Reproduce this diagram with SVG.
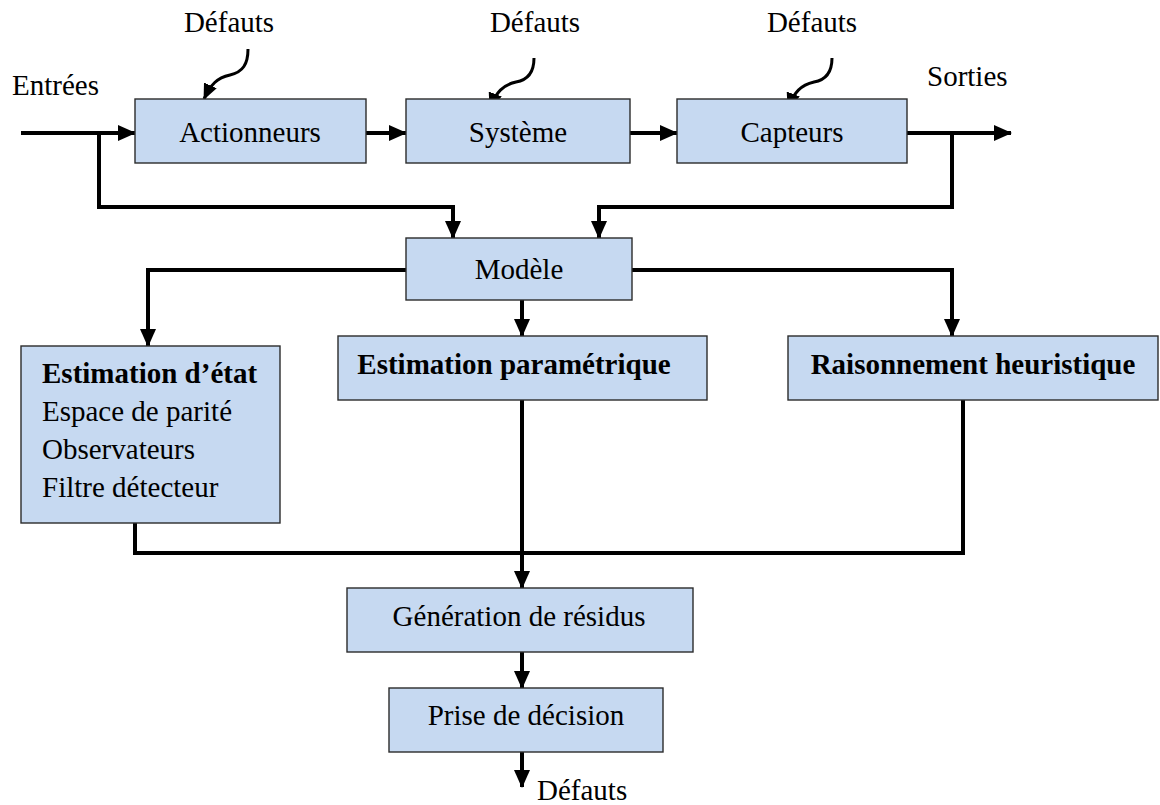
<svg xmlns="http://www.w3.org/2000/svg" width="1160" height="805" viewBox="0 0 1160 805">
  <style>
    .box { fill: #C6D9F1; stroke: #2b2b2b; stroke-width: 1.4; }
    .lbl { font-family: "Liberation Serif", "Times New Roman", serif; font-size: 29px; fill: #000; }
    .mid { text-anchor: middle; }
    .b { font-weight: bold; }
    .wire { fill: none; stroke: #000; stroke-width: 4; stroke-linejoin: miter; }
    .arr { marker-end: url(#head); }
    .wave { fill: none; stroke: #000; stroke-width: 3; marker-end: url(#small); }
  </style>
  <defs>
    <marker id="head" markerUnits="userSpaceOnUse" markerWidth="18" markerHeight="16" viewBox="0 0 18 16" refX="17" refY="8" orient="auto">
      <path d="M0,0 L18,8 L0,16 z" fill="#000"/>
    </marker>
    <marker id="small" markerUnits="userSpaceOnUse" markerWidth="16" markerHeight="14" viewBox="0 0 16 14" refX="15" refY="7" orient="auto">
      <path d="M0,0 L16,7 L0,14 z" fill="#000"/>
    </marker>
  </defs>

  <!-- free labels -->
  <text class="lbl" x="12" y="95">Entrées</text>
  <text class="lbl" x="927" y="86">Sorties</text>
  <text class="lbl mid" x="229" y="32">Défauts</text>
  <text class="lbl mid" x="535" y="32">Défauts</text>
  <text class="lbl mid" x="812" y="32">Défauts</text>
  <text class="lbl" x="537" y="800">Défauts</text>

  <!-- connectors -->
  <g id="connectors">
    <!-- fault disturbances -->
    <path class="wave" d="M248,49 C248,64 243,72 230,75 C217,78 211,84 204,99"/>
    <path class="wave" d="M534,58 C534,72 528,80 516,82 C503,85 496,92 490,108"/>
    <path class="wave" d="M832,58 C832,72 826,80 814,82 C801,85 794,92 788,108"/>

    <!-- forward chain -->
    <path class="wire arr" d="M21,133 L135,133"/>
    <path class="wire arr" d="M366,133 L406,133"/>
    <path class="wire arr" d="M630,133 L677,133"/>
    <path class="wire arr" d="M907,133 L1011,133"/>

    <!-- inputs and outputs to the model -->
    <path class="wire arr" d="M99,133 L99,207 L453,207 L453,238"/>
    <path class="wire arr" d="M952,133 L952,207 L599,207 L599,238"/>

    <!-- model to the three methods -->
    <path class="wire arr" d="M406,270 L148,270 L148,346"/>
    <path class="wire arr" d="M522,300 L522,336"/>
    <path class="wire arr" d="M632,270 L952,270 L952,336"/>

    <!-- methods to residual generation -->
    <path class="wire" d="M135,523 L135,553 L963,553 L963,400"/>
    <path class="wire arr" d="M522,400 L522,588"/>
    <path class="wire arr" d="M522,652 L522,688"/>
    <path class="wire arr" d="M522,752 L522,787"/>
  </g>

  <g id="actionneurs">
    <rect class="box" x="135" y="99" width="231" height="64"/>
    <text class="lbl mid" x="250" y="142">Actionneurs</text>
  </g>
  <g id="systeme">
    <rect class="box" x="406" y="99" width="224" height="64"/>
    <text class="lbl mid" x="518" y="142">Système</text>
  </g>
  <g id="capteurs">
    <rect class="box" x="677" y="99" width="230" height="64"/>
    <text class="lbl mid" x="792" y="142">Capteurs</text>
  </g>
  <g id="modele">
    <rect class="box" x="406" y="238" width="226" height="62"/>
    <text class="lbl mid" x="519" y="279">Modèle</text>
  </g>
  <g id="estimation-etat">
    <rect class="box" x="21" y="346" width="259" height="177"/>
    <text class="lbl b" x="42" y="383">Estimation d’état</text>
    <text class="lbl" x="42" y="421">Espace de parité</text>
    <text class="lbl" x="42" y="459">Observateurs</text>
    <text class="lbl" x="42" y="497">Filtre détecteur</text>
  </g>
  <g id="estimation-parametrique">
    <rect class="box" x="338" y="336" width="369" height="64"/>
    <text class="lbl mid b" x="514" y="374">Estimation paramétrique</text>
  </g>
  <g id="raisonnement">
    <rect class="box" x="788" y="336" width="370" height="64"/>
    <text class="lbl mid b" x="973" y="374">Raisonnement heuristique</text>
  </g>
  <g id="generation-residus">
    <rect class="box" x="347" y="588" width="346" height="64"/>
    <text class="lbl mid" x="519" y="626">Génération de résidus</text>
  </g>
  <g id="prise-decision">
    <rect class="box" x="389" y="688" width="274" height="64"/>
    <text class="lbl mid" x="526" y="725">Prise de décision</text>
  </g>
</svg>
